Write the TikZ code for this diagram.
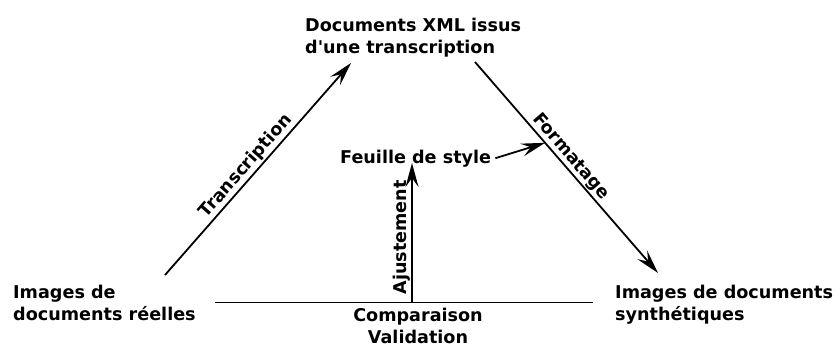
\documentclass[tikz,border=0pt]{standalone}
\usepackage{fontspec}
\setmainfont{DejaVu Sans}
\usetikzlibrary{arrows.meta}

\tikzset{
  fleche/.style={line width=1.8pt, -{Stealth[length=24pt,width=13pt,inset=9pt]}},
  trait/.style={line width=1.2pt},
  texte/.style={inner sep=0pt, font=\bfseries\fontsize{17.6}{22}\selectfont},
}

\begin{document}
\begin{tikzpicture}[x=1pt,y=-1pt]
\useasboundingbox (0,0) rectangle (835,345);

\node[texte, anchor=north west, align=left] (xml) at (305,18) {Documents XML issus\\d\textquotesingle une transcription};
\node[texte, anchor=north west, align=left] (reel) at (13,285) {Images de\\documents réelles};
\node[texte, anchor=north west, align=left] (synth) at (615,285) {Images de documents\\synthétiques};
\node[texte, anchor=north, align=center] (comp) at (418,307.5) {Comparaison\\Validation};
\node[texte, anchor=base west] (style) at (340,163) {Feuille de style};

% sommets du triangle
\coordinate (t1) at (165,275);
\coordinate (t2) at (351,63);
\coordinate (f1) at (475,62);
\coordinate (f2) at (658,273);
\coordinate (h1) at (215,302.5);
\coordinate (h2) at (593,302.5);
\coordinate (a1) at (412,302.5);
\coordinate (a2) at (412,163);

\draw[fleche] (t1) -- node[texte, pos=0.48, sloped, above, inner sep=1.5pt] (trans) {Transcription} (t2);
\draw[fleche] (f1) -- node[texte, pos=0.48, sloped, above, inner sep=1pt] (form) {Formatage} coordinate[pos=0.383] (fs) (f2);
\draw[fleche] ([xshift=4pt]style.east) -- (fs);
\draw[trait] (h1) -- (h2);
\draw[fleche] (a1) -- node[texte, pos=0.466, sloped, above, inner sep=1pt] (ajust) {Ajustement} (a2);
\end{tikzpicture}
\end{document}
